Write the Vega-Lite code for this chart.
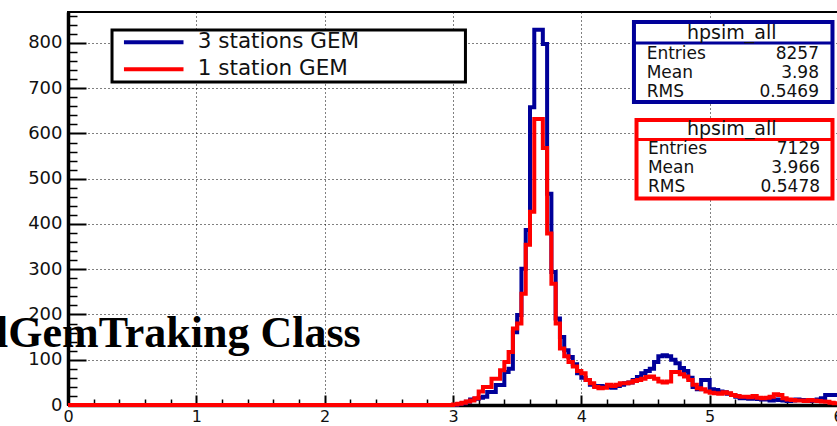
{
  "$schema": "https://vega.github.io/schema/vega-lite/v6.json",
  "width": 770,
  "height": 393,
  "autosize": {"type": "none"},
  "padding": {"left": 68, "top": 12, "right": 0, "bottom": 21},
  "background": "white",
  "config": {"view": {"stroke": "black", "strokeWidth": 2}, "font": "DejaVu Sans"},
  "datasets": {
    "gem3": [
      {"x": 0, "n": 0},
      {"x": 3.0, "n": 0}, {"x": 3.0333, "n": 2}, {"x": 3.0667, "n": 4}, {"x": 3.1, "n": 7}, {"x": 3.1333, "n": 12},
      {"x": 3.1667, "n": 14}, {"x": 3.2, "n": 16}, {"x": 3.2333, "n": 18}, {"x": 3.2667, "n": 29}, {"x": 3.3, "n": 29},
      {"x": 3.3333, "n": 44}, {"x": 3.3667, "n": 44}, {"x": 3.4, "n": 73}, {"x": 3.4333, "n": 80}, {"x": 3.4667, "n": 161},
      {"x": 3.5, "n": 199}, {"x": 3.5333, "n": 301}, {"x": 3.5667, "n": 387}, {"x": 3.6, "n": 658}, {"x": 3.6333, "n": 829},
      {"x": 3.6667, "n": 829}, {"x": 3.7, "n": 798}, {"x": 3.7333, "n": 467}, {"x": 3.7667, "n": 294}, {"x": 3.8, "n": 191},
      {"x": 3.8333, "n": 150}, {"x": 3.8667, "n": 121}, {"x": 3.9, "n": 106}, {"x": 3.9333, "n": 90}, {"x": 3.9667, "n": 70},
      {"x": 4.0, "n": 60}, {"x": 4.0333, "n": 55}, {"x": 4.0667, "n": 45}, {"x": 4.1, "n": 42}, {"x": 4.1333, "n": 42},
      {"x": 4.1667, "n": 40}, {"x": 4.2, "n": 40}, {"x": 4.2333, "n": 38}, {"x": 4.2667, "n": 42}, {"x": 4.3, "n": 45},
      {"x": 4.3333, "n": 48}, {"x": 4.3667, "n": 50}, {"x": 4.4, "n": 55}, {"x": 4.4333, "n": 62}, {"x": 4.4667, "n": 70},
      {"x": 4.5, "n": 75}, {"x": 4.5333, "n": 80}, {"x": 4.5667, "n": 95}, {"x": 4.6, "n": 108}, {"x": 4.6333, "n": 110},
      {"x": 4.6667, "n": 108}, {"x": 4.7, "n": 100}, {"x": 4.7333, "n": 92}, {"x": 4.7667, "n": 82}, {"x": 4.8, "n": 75},
      {"x": 4.8333, "n": 60}, {"x": 4.8667, "n": 40}, {"x": 4.9, "n": 35}, {"x": 4.9333, "n": 55}, {"x": 4.9667, "n": 55},
      {"x": 5.0, "n": 35}, {"x": 5.0333, "n": 33}, {"x": 5.0667, "n": 30}, {"x": 5.1, "n": 28}, {"x": 5.1333, "n": 25},
      {"x": 5.1667, "n": 22}, {"x": 5.2, "n": 18}, {"x": 5.2333, "n": 15}, {"x": 5.2667, "n": 15}, {"x": 5.3, "n": 14},
      {"x": 5.3333, "n": 15}, {"x": 5.3667, "n": 13}, {"x": 5.4, "n": 12}, {"x": 5.4333, "n": 12}, {"x": 5.4667, "n": 10},
      {"x": 5.5, "n": 12}, {"x": 5.5333, "n": 11}, {"x": 5.5667, "n": 10}, {"x": 5.6, "n": 9}, {"x": 5.6333, "n": 10},
      {"x": 5.6667, "n": 12}, {"x": 5.7, "n": 11}, {"x": 5.7333, "n": 10}, {"x": 5.7667, "n": 9}, {"x": 5.8, "n": 10},
      {"x": 5.8333, "n": 12}, {"x": 5.8667, "n": 15}, {"x": 5.9, "n": 22}, {"x": 5.9333, "n": 22}, {"x": 5.9667, "n": 22},
      {"x": 6.0, "n": 22}
    ],
    "gem1": [
      {"x": 0, "n": 0},
      {"x": 3.0, "n": 1}, {"x": 3.0333, "n": 3}, {"x": 3.0667, "n": 5}, {"x": 3.1, "n": 8}, {"x": 3.1333, "n": 10},
      {"x": 3.1667, "n": 15}, {"x": 3.2, "n": 30}, {"x": 3.2333, "n": 40}, {"x": 3.2667, "n": 40}, {"x": 3.3, "n": 58},
      {"x": 3.3333, "n": 58}, {"x": 3.3667, "n": 77}, {"x": 3.4, "n": 95}, {"x": 3.4333, "n": 117}, {"x": 3.4667, "n": 169},
      {"x": 3.5, "n": 180}, {"x": 3.5333, "n": 246}, {"x": 3.5667, "n": 354}, {"x": 3.6, "n": 427}, {"x": 3.6333, "n": 632},
      {"x": 3.6667, "n": 632}, {"x": 3.7, "n": 568}, {"x": 3.7333, "n": 379}, {"x": 3.7667, "n": 268}, {"x": 3.8, "n": 180},
      {"x": 3.8333, "n": 125}, {"x": 3.8667, "n": 108}, {"x": 3.9, "n": 95}, {"x": 3.9333, "n": 85}, {"x": 3.9667, "n": 75},
      {"x": 4.0, "n": 70}, {"x": 4.0333, "n": 55}, {"x": 4.0667, "n": 48}, {"x": 4.1, "n": 40}, {"x": 4.1333, "n": 37},
      {"x": 4.1667, "n": 38}, {"x": 4.2, "n": 45}, {"x": 4.2333, "n": 42}, {"x": 4.2667, "n": 45}, {"x": 4.3, "n": 48},
      {"x": 4.3333, "n": 48}, {"x": 4.3667, "n": 50}, {"x": 4.4, "n": 53}, {"x": 4.4333, "n": 55}, {"x": 4.4667, "n": 58},
      {"x": 4.5, "n": 62}, {"x": 4.5333, "n": 63}, {"x": 4.5667, "n": 58}, {"x": 4.6, "n": 52}, {"x": 4.6333, "n": 50},
      {"x": 4.6667, "n": 52}, {"x": 4.7, "n": 73}, {"x": 4.7333, "n": 73}, {"x": 4.7667, "n": 68}, {"x": 4.8, "n": 63},
      {"x": 4.8333, "n": 55}, {"x": 4.8667, "n": 45}, {"x": 4.9, "n": 37}, {"x": 4.9333, "n": 35}, {"x": 4.9667, "n": 30},
      {"x": 5.0, "n": 27}, {"x": 5.0333, "n": 26}, {"x": 5.0667, "n": 25}, {"x": 5.1, "n": 28}, {"x": 5.1333, "n": 26},
      {"x": 5.1667, "n": 22}, {"x": 5.2, "n": 20}, {"x": 5.2333, "n": 18}, {"x": 5.2667, "n": 18}, {"x": 5.3, "n": 17},
      {"x": 5.3333, "n": 20}, {"x": 5.3667, "n": 16}, {"x": 5.4, "n": 15}, {"x": 5.4333, "n": 16}, {"x": 5.4667, "n": 18},
      {"x": 5.5, "n": 24}, {"x": 5.5333, "n": 22}, {"x": 5.5667, "n": 15}, {"x": 5.6, "n": 12}, {"x": 5.6333, "n": 11},
      {"x": 5.6667, "n": 10}, {"x": 5.7, "n": 10}, {"x": 5.7333, "n": 9}, {"x": 5.7667, "n": 11}, {"x": 5.8, "n": 10},
      {"x": 5.8333, "n": 9}, {"x": 5.8667, "n": 8}, {"x": 5.9, "n": 7}, {"x": 5.9333, "n": 5}, {"x": 5.9667, "n": 4},
      {"x": 6.0, "n": 4}
    ],
    "one": [{}]
  },
  "resolve": {"axis": {"x": "independent", "y": "independent"}},
  "layer": [
    {
      "data": {"name": "gem3"},
      "mark": {"type": "line", "interpolate": "step-after", "strokeWidth": 4, "color": "#000099", "strokeJoin": "miter", "strokeCap": "butt"},
      "encoding": {
        "x": {"field": "x", "type": "quantitative", "scale": {"domain": [0, 6], "nice": false, "zero": false},
          "axis": {"orient": "bottom", "values": [0, 1, 2, 3, 4, 5, 6], "format": "d", "title": null, "ticks": false,
            "grid": true, "gridColor": "black", "gridDash": [1, 3], "gridWidth": 1,
            "domain": true, "domainColor": "black", "domainWidth": 3.5,
            "labelFont": "DejaVu Sans", "labelFontSize": 16, "labelColor": "#111", "labelPadding": 3, "labelBaseline": "top", "labelFlush": false, "labelOverlap": false}},
        "y": {"field": "n", "type": "quantitative", "scale": {"domain": [0, 868.5], "nice": false},
          "axis": {"orient": "left", "values": [0, 100, 200, 300, 400, 500, 600, 700, 800], "title": null, "ticks": false,
            "grid": true, "gridColor": "black", "gridDash": [1, 3], "gridWidth": 1,
            "domain": true, "domainColor": "black", "domainWidth": 3.5,
            "labelFont": "DejaVu Sans", "labelFontSize": 18, "labelColor": "#111", "labelPadding": 6, "labelFlush": false, "labelOverlap": false}}
      }
    },
    {
      "data": {"name": "gem1"},
      "mark": {"type": "line", "interpolate": "step-after", "strokeWidth": 4, "color": "#ff0000", "strokeJoin": "miter", "strokeCap": "butt"},
      "encoding": {
        "x": {"field": "x", "type": "quantitative", "axis": null},
        "y": {"field": "n", "type": "quantitative", "axis": null}
      }
    },
    {
      "data": {"name": "one"},
      "mark": {"type": "rect", "fill": "white", "stroke": "black", "strokeWidth": 3},
      "encoding": {
        "x": {"datum": 0.343, "type": "quantitative",
          "axis": {"orient": "top", "offset": -393, "values": [0, 1, 2, 3, 4, 5, 6], "labels": false, "ticks": true, "tickSize": 10, "tickWidth": 2, "tickColor": "black", "domain": false, "grid": false, "title": null}},
        "x2": {"datum": 3.097},
        "y": {"datum": 828.7, "type": "quantitative",
          "axis": {"orient": "right", "offset": -770, "values": [0, 100, 200, 300, 400, 500, 600, 700, 800], "labels": false, "ticks": true, "tickSize": 18, "tickWidth": 2, "tickColor": "black", "domain": false, "grid": false, "title": null}},
        "y2": {"datum": 713.8}
      }
    },
    {
      "data": {"name": "one"},
      "mark": {"type": "rule", "strokeWidth": 4, "color": "#000099"},
      "encoding": {
        "x": {"datum": 0.436, "type": "quantitative", "axis": null},
        "x2": {"datum": 0.9},
        "y": {"datum": 801.6, "type": "quantitative", "axis": null}
      }
    },
    {
      "data": {"name": "one"},
      "mark": {"type": "rule", "strokeWidth": 4, "color": "#ff0000"},
      "encoding": {
        "x": {"datum": 0.436, "type": "quantitative", "axis": null},
        "x2": {"datum": 0.9},
        "y": {"datum": 741.9, "type": "quantitative", "axis": null}
      }
    },
    {
      "data": {"name": "one"},
      "mark": {"type": "text", "align": "left", "baseline": "middle", "font": "DejaVu Sans", "fontSize": 21.5, "color": "#111"},
      "encoding": {
        "x": {"datum": 1.011, "type": "quantitative", "axis": null},
        "y": {"datum": 801.6, "type": "quantitative", "axis": null},
        "text": {"value": "3 stations GEM"}
      }
    },
    {
      "data": {"name": "one"},
      "mark": {"type": "text", "align": "left", "baseline": "middle", "font": "DejaVu Sans", "fontSize": 21.5, "color": "#111"},
      "encoding": {
        "x": {"datum": 1.011, "type": "quantitative", "axis": null},
        "y": {"datum": 741.9, "type": "quantitative", "axis": null},
        "text": {"value": "1 station GEM"}
      }
    },
    {
      "data": {"name": "one"},
      "mark": {"type": "rect", "fill": "white", "stroke": "#000099", "strokeWidth": 4},
      "encoding": {
        "x": {"datum": 4.41, "type": "quantitative",
          "axis": {"orient": "top", "offset": -393, "values": [0.2, 0.4, 0.6, 0.8, 1.2, 1.4, 1.6, 1.8, 2.2, 2.4, 2.6, 2.8, 3.2, 3.4, 3.6, 3.8, 4.2, 4.4, 4.6, 4.8, 5.2, 5.4, 5.6, 5.8], "labels": false, "ticks": true, "tickSize": 6, "tickWidth": 1.5, "tickColor": "black", "domain": false, "grid": false, "title": null}},
        "x2": {"datum": 5.957},
        "y": {"datum": 846.4, "type": "quantitative",
          "axis": {"orient": "right", "offset": -770, "values": [20, 40, 60, 80, 120, 140, 160, 180, 220, 240, 260, 280, 320, 340, 360, 380, 420, 440, 460, 480, 520, 540, 560, 580, 620, 640, 660, 680, 720, 740, 760, 780, 820, 840, 860], "labels": false, "ticks": true, "tickSize": 9, "tickWidth": 1.5, "tickColor": "black", "domain": false, "grid": false, "title": null}},
        "y2": {"datum": 669.6}
      }
    },
    {
      "data": {"name": "one"},
      "mark": {"type": "rule", "strokeWidth": 3, "color": "#000099"},
      "encoding": {
        "x": {"datum": 4.41, "type": "quantitative", "axis": null},
        "x2": {"datum": 5.957},
        "y": {"datum": 800.0, "type": "quantitative", "axis": null}
      }
    },
    {
      "data": {"name": "one"},
      "mark": {"type": "text", "align": "center", "baseline": "middle", "font": "DejaVu Sans", "fontSize": 19, "color": "#111"},
      "encoding": {
        "x": {"datum": 5.172, "type": "quantitative", "axis": null},
        "y": {"datum": 821.4, "type": "quantitative", "axis": null},
        "text": {"value": "hpsim_all"}
      }
    },
    {
      "data": {"name": "one"},
      "mark": {"type": "text", "align": "left", "baseline": "middle", "font": "DejaVu Sans", "fontSize": 17, "lineHeight": 19, "color": "#111"},
      "encoding": {
        "x": {"datum": 4.509, "type": "quantitative", "axis": null},
        "y": {"datum": 775.0, "type": "quantitative", "axis": null},
        "text": {"value": ["Entries", "Mean", "RMS"]}
      }
    },
    {
      "data": {"name": "one"},
      "mark": {"type": "text", "align": "right", "baseline": "middle", "font": "DejaVu Sans", "fontSize": 17, "lineHeight": 19, "color": "#111"},
      "encoding": {
        "x": {"datum": 5.852, "type": "quantitative", "axis": null},
        "y": {"datum": 775.0, "type": "quantitative", "axis": null},
        "text": {"value": ["8257", "3.98", "0.5469"]}
      }
    },
    {
      "data": {"name": "one"},
      "mark": {"type": "rect", "fill": "white", "stroke": "#ff0000", "strokeWidth": 4},
      "encoding": {
        "x": {"datum": 4.43, "type": "quantitative", "axis": null},
        "x2": {"datum": 5.957},
        "y": {"datum": 629.9, "type": "quantitative", "axis": null},
        "y2": {"datum": 456.3}
      }
    },
    {
      "data": {"name": "one"},
      "mark": {"type": "rule", "strokeWidth": 3, "color": "#ff0000"},
      "encoding": {
        "x": {"datum": 4.43, "type": "quantitative", "axis": null},
        "x2": {"datum": 5.957},
        "y": {"datum": 586.5, "type": "quantitative", "axis": null}
      }
    },
    {
      "data": {"name": "one"},
      "mark": {"type": "text", "align": "center", "baseline": "middle", "font": "DejaVu Sans", "fontSize": 19, "color": "#111"},
      "encoding": {
        "x": {"datum": 5.172, "type": "quantitative", "axis": null},
        "y": {"datum": 609.3, "type": "quantitative", "axis": null},
        "text": {"value": "hpsim_all"}
      }
    },
    {
      "data": {"name": "one"},
      "mark": {"type": "text", "align": "left", "baseline": "middle", "font": "DejaVu Sans", "fontSize": 17, "lineHeight": 19, "color": "#111"},
      "encoding": {
        "x": {"datum": 4.519, "type": "quantitative", "axis": null},
        "y": {"datum": 565.3, "type": "quantitative", "axis": null},
        "text": {"value": ["Entries", "Mean", "RMS"]}
      }
    },
    {
      "data": {"name": "one"},
      "mark": {"type": "text", "align": "right", "baseline": "middle", "font": "DejaVu Sans", "fontSize": 17, "lineHeight": 19, "color": "#111"},
      "encoding": {
        "x": {"datum": 5.86, "type": "quantitative", "axis": null},
        "y": {"datum": 565.3, "type": "quantitative", "axis": null},
        "text": {"value": ["7129", "3.966", "0.5478"]}
      }
    },
    {
      "data": {"name": "one"},
      "mark": {"type": "text", "align": "left", "baseline": "alphabetic", "font": "Liberation Serif", "fontWeight": "bold", "fontSize": 44, "color": "black"},
      "encoding": {
        "x": {"datum": -0.561, "type": "quantitative", "axis": null},
        "y": {"datum": 128.9, "type": "quantitative", "axis": null},
        "text": {"value": "lGemTraking Class"}
      }
    }
  ]
}
